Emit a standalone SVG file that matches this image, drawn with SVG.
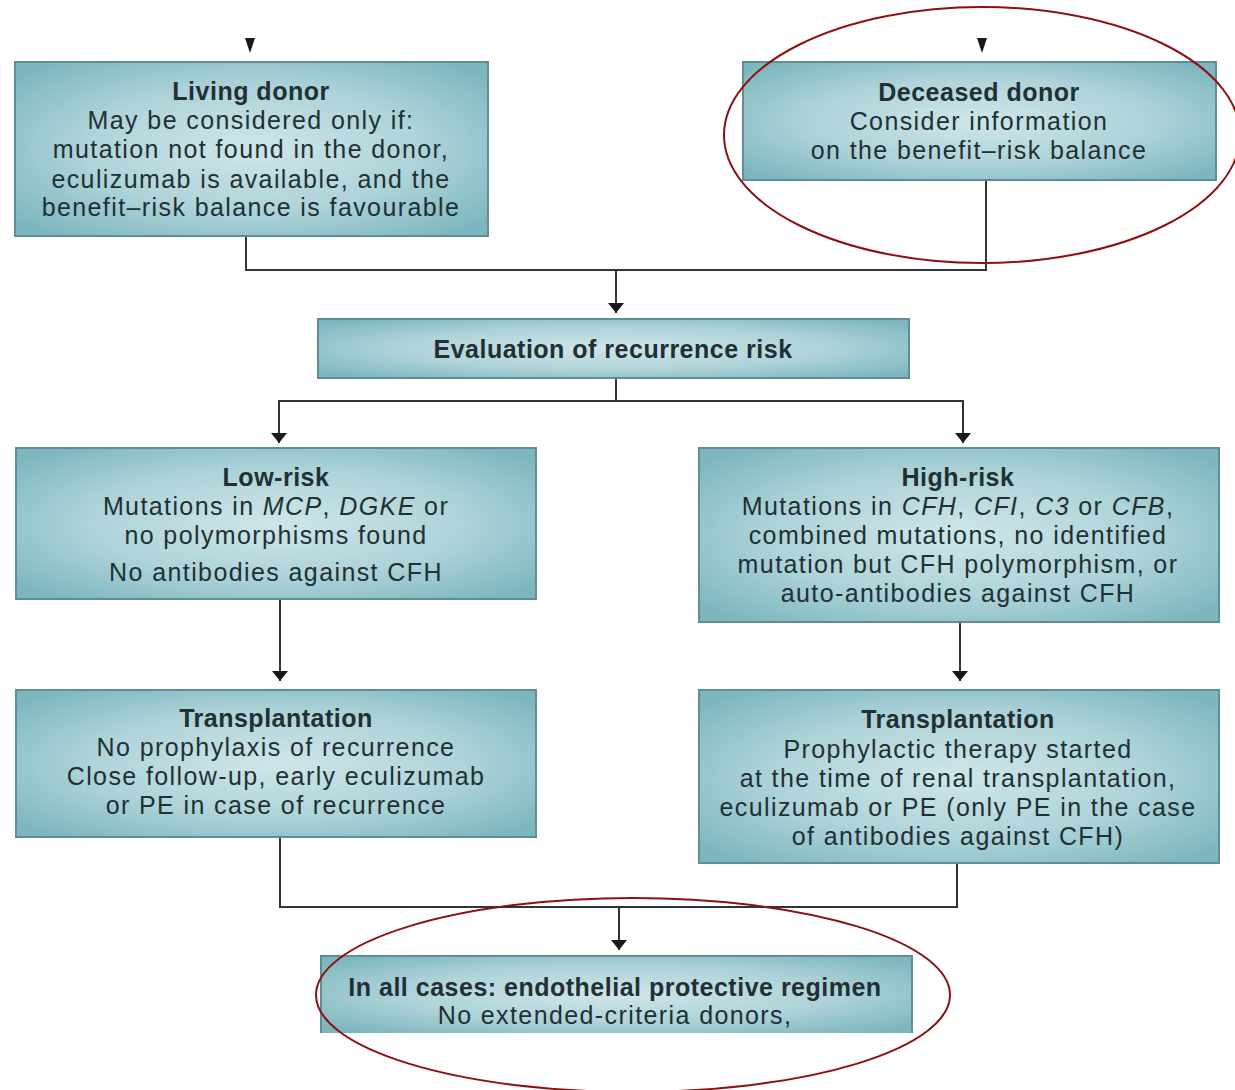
<svg xmlns="http://www.w3.org/2000/svg" width="1235" height="1090" viewBox="0 0 1235 1090">
<defs>
<radialGradient id="g" cx="50%" cy="50%" r="65%">
<stop offset="0" stop-color="#cfe6e9"/>
<stop offset="0.55" stop-color="#aed3d9"/>
<stop offset="1" stop-color="#7db6bf"/>
</radialGradient>
<marker id="ah" viewBox="0 0 10 16" refX="10" refY="8" markerWidth="10" markerHeight="16" markerUnits="userSpaceOnUse" orient="auto"><path d="M0,0 L10,8 L0,16 z" fill="#1a1a1a"/></marker>
<style>
.box{fill:url(#g);stroke:#5f8e95;stroke-width:2}
.t{font-family:"Liberation Sans",Arial,sans-serif;font-size:25px;fill:#223033;text-anchor:middle;letter-spacing:1.4px}
.b{font-weight:bold;letter-spacing:0.5px}
.i{font-style:italic}
.c{fill:none;stroke:#333;stroke-width:2}
.a{fill:none;stroke:#333;stroke-width:2;marker-end:url(#ah)}
.tip{fill:#1a1a1a}
.ell{fill:none;stroke:#8e1010;stroke-width:2}
</style>
</defs>
<rect width="1235" height="1090" fill="#fff"/>

<g id="connectors">
<path class="tip" d="M245,38 L255,38 L250,53 z"/>
<path class="tip" d="M977,38 L987,38 L982,53 z"/>
<path class="c" d="M246,236 V270 H986 V180"/>
<path class="a" d="M616,270 V313"/>
<path class="c" d="M616,378 V401"/>
<path class="c" d="M279,442 V401 H963 V442"/>
<path class="a" d="M279,401 V443"/>
<path class="a" d="M963,401 V443"/>
<path class="a" d="M280,599 V681"/>
<path class="a" d="M960,622 V681"/>
<path class="c" d="M280,837 V907 H957 V863"/>
<path class="a" d="M619,907 V950"/>
</g>

<g id="living">
<rect class="box" x="15" y="62" width="473" height="174"/>
<text class="t b" x="251" y="100">Living donor</text>
<text class="t" x="251" y="129">May be considered only if:</text>
<text class="t" x="251" y="158">mutation not found in the donor,</text>
<text class="t" x="251" y="188">eculizumab is available, and the</text>
<text class="t" x="251" y="216">benefit–risk balance is favourable</text>
</g>

<g id="deceased">
<rect class="box" x="743" y="62" width="473" height="118"/>
<text class="t b" x="979" y="101">Deceased donor</text>
<text class="t" x="979" y="130">Consider information</text>
<text class="t" x="979" y="159">on the benefit–risk balance</text>
</g>

<g id="evaluation">
<rect class="box" x="318" y="319" width="591" height="59"/>
<text class="t b" x="613" y="358">Evaluation of recurrence risk</text>
</g>

<g id="lowrisk">
<rect class="box" x="16" y="448" width="520" height="151"/>
<text class="t b" x="276" y="486">Low-risk</text>
<text class="t" x="276" y="515">Mutations in <tspan class="i">MCP</tspan>, <tspan class="i">DGKE</tspan> or</text>
<text class="t" x="276" y="544">no polymorphisms found</text>
<text class="t" x="276" y="581">No antibodies against CFH</text>
</g>

<g id="highrisk">
<rect class="box" x="699" y="448" width="520" height="174"/>
<text class="t b" x="958" y="486">High-risk</text>
<text class="t" x="958" y="515">Mutations in <tspan class="i">CFH</tspan>, <tspan class="i">CFI</tspan>, <tspan class="i">C3</tspan> or <tspan class="i">CFB</tspan>,</text>
<text class="t" x="958" y="544">combined mutations, no identified</text>
<text class="t" x="958" y="573">mutation but CFH polymorphism, or</text>
<text class="t" x="958" y="602">auto-antibodies against CFH</text>
</g>

<g id="lowtransplant">
<rect class="box" x="16" y="690" width="520" height="147"/>
<text class="t b" x="276" y="727">Transplantation</text>
<text class="t" x="276" y="756">No prophylaxis of recurrence</text>
<text class="t" x="276" y="785">Close follow-up, early eculizumab</text>
<text class="t" x="276" y="814">or PE in case of recurrence</text>
</g>

<g id="hightransplant">
<rect class="box" x="699" y="690" width="520" height="173"/>
<text class="t b" x="958" y="728">Transplantation</text>
<text class="t" x="958" y="758">Prophylactic therapy started</text>
<text class="t" x="958" y="787">at the time of renal transplantation,</text>
<text class="t" x="958" y="816">eculizumab or PE (only PE in the case</text>
<text class="t" x="958" y="845">of antibodies against CFH)</text>
</g>

<g id="allcases">
<rect x="321" y="956" width="591" height="77" fill="url(#g)"/>
<path d="M321,1033 V956 H912 V1033" fill="none" stroke="#5f8e95" stroke-width="2"/>
<text class="t b" x="615" y="996">In all cases: endothelial protective regimen</text>
<text class="t" x="615" y="1024">No extended-criteria donors,</text>
</g>

<g id="highlights">
<ellipse class="ell" cx="982" cy="135" rx="258" ry="128"/>
<ellipse class="ell" cx="633" cy="995" rx="317" ry="97"/>
</g>
</svg>
